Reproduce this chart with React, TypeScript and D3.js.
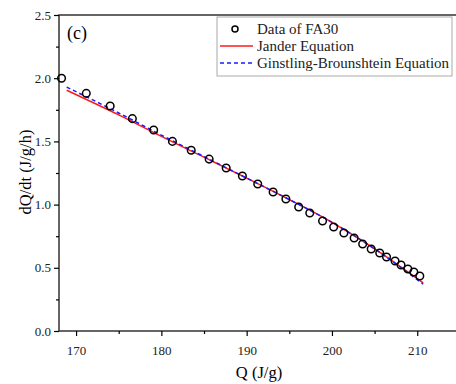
import React, { useEffect, useRef } from "react";
import * as d3 from "d3";

// measured data (Q in J/g, dQ/dt in J/g/h)
const dataQ = [168.3, 171.2, 174.0, 176.6, 179.1, 181.3, 183.5, 185.6, 187.6, 189.5, 191.3, 193.1, 194.6, 196.1, 197.4, 198.9, 200.2, 201.4, 202.6, 203.6, 204.6, 205.6, 206.4, 207.4, 208.1, 208.9, 209.6, 210.3];
const dataRate = [2.0, 1.88, 1.78, 1.68, 1.59, 1.5, 1.43, 1.36, 1.29, 1.226, 1.163, 1.1, 1.044, 0.981, 0.934, 0.87, 0.823, 0.775, 0.736, 0.688, 0.649, 0.617, 0.585, 0.554, 0.522, 0.491, 0.467, 0.435];

// fitted curves
const fitQ = [168.9, 175, 180, 185, 190, 195, 200, 205, 210.7];
const janderRate = [1.905, 1.71, 1.54, 1.375, 1.21, 1.04, 0.86, 0.65, 0.38];
const gbRate = [1.93, 1.725, 1.55, 1.38, 1.21, 1.04, 0.86, 0.65, 0.37];

const xTicks = [170, 180, 190, 200, 210];
const yTicks = [0.0, 0.5, 1.0, 1.5, 2.0, 2.5];

const legendLabels = ["Data of FA30", "Jander Equation", "Ginstling-Brounshtein Equation"];

const FONT = "'Liberation Serif', 'Times New Roman', serif";

const App: React.FC = () => {
  const svgRef = useRef<SVGSVGElement | null>(null);

  useEffect(() => {
    if (svgRef.current) drawChart(svgRef.current);
  }, []);

  const drawChart = (el: SVGSVGElement) => {
    const width = 456;
    const height = 384;
    const left = 59;
    const top = 15;
    const bottom = 331;

    d3.select(el).selectAll("*").remove();
    const svg = d3.select(el).attr("width", width).attr("height", height);

    const x = d3.scaleLinear().domain([168, 215]).range([left, 76.5 + 45 * 8.52]);
    const y = d3.scaleLinear().domain([0, 2.5]).range([bottom, top]);
    const right = x(215);

    // frame (right side runs off the image)
    svg
      .append("rect")
      .attr("x", left)
      .attr("y", top)
      .attr("width", right - left)
      .attr("height", bottom - top)
      .attr("fill", "none")
      .attr("stroke", "#333")
      .attr("stroke-width", 1.5);

    // x axis
    const xAxis = svg.append("g").attr("transform", `translate(0,${bottom})`);
    xAxis
      .call(d3.axisBottom(x).tickValues(xTicks).tickSize(5).tickFormat(d3.format("d")))
      .call((g) => g.select(".domain").remove());
    xAxis
      .append("g")
      .call(d3.axisBottom(x).tickValues([175, 185, 195, 205]).tickSize(3).tickFormat(() => ""))
      .call((g) => g.select(".domain").remove());

    // y axis
    const yAxis = svg.append("g").attr("transform", `translate(${left},0)`);
    yAxis
      .call(d3.axisLeft(y).tickValues(yTicks).tickSize(5).tickFormat(d3.format(".1f")))
      .call((g) => g.select(".domain").remove());
    yAxis
      .append("g")
      .call(d3.axisLeft(y).tickValues([0.25, 0.75, 1.25, 1.75, 2.25]).tickSize(3).tickFormat(() => ""))
      .call((g) => g.select(".domain").remove());

    svg.selectAll(".tick line").attr("stroke", "#000").attr("stroke-width", 1.2);
    svg
      .selectAll(".tick text")
      .attr("font-family", FONT)
      .attr("font-size", 13)
      .attr("fill", "#222");
    xAxis.selectAll(".tick text").attr("dy", "1.2em");

    // axis titles
    svg
      .append("text")
      .attr("x", 259)
      .attr("y", 378)
      .attr("text-anchor", "middle")
      .attr("font-family", FONT)
      .attr("font-size", 16.5)
      .text("Q (J/g)");

    svg
      .append("text")
      .attr("transform", `translate(31,172) rotate(-90)`)
      .attr("text-anchor", "middle")
      .attr("font-family", FONT)
      .attr("font-size", 16.5)
      .text("dQ/dt (J/g/h)");

    svg
      .append("text")
      .attr("x", 67)
      .attr("y", 39)
      .attr("font-family", FONT)
      .attr("font-size", 18)
      .text("(c)");

    const line = d3
      .line<number>()
      .x((d, i) => x(fitQ[i]))
      .y((d) => y(d))
      .curve(d3.curveMonotoneX);

    svg
      .append("path")
      .datum(janderRate)
      .attr("fill", "none")
      .attr("stroke", "#ff1a1a")
      .attr("stroke-width", 1.5)
      .attr("d", line);

    svg
      .append("path")
      .datum(gbRate)
      .attr("fill", "none")
      .attr("stroke", "#1a1aff")
      .attr("stroke-width", 1.5)
      .attr("stroke-dasharray", "4,3")
      .attr("d", line);

    svg
      .append("g")
      .selectAll("circle")
      .data(dataQ)
      .join("circle")
      .attr("cx", (d) => x(d))
      .attr("cy", (d, i) => y(dataRate[i]))
      .attr("r", 3.8)
      .attr("fill", "none")
      .attr("stroke", "#000")
      .attr("stroke-width", 1.5);

    // legend
    const lg = svg.append("g");
    lg.append("rect")
      .attr("x", 217)
      .attr("y", 17)
      .attr("width", 235)
      .attr("height", 59)
      .attr("fill", "#fff")
      .attr("stroke", "#aaa")
      .attr("stroke-width", 1);

    const rowY = [29, 46, 63];
    lg.append("circle")
      .attr("cx", 235)
      .attr("cy", rowY[0])
      .attr("r", 3)
      .attr("fill", "none")
      .attr("stroke", "#000")
      .attr("stroke-width", 1.5);
    lg.append("line")
      .attr("x1", 220)
      .attr("x2", 253)
      .attr("y1", rowY[1])
      .attr("y2", rowY[1])
      .attr("stroke", "#ff1a1a")
      .attr("stroke-width", 1.5);
    lg.append("line")
      .attr("x1", 220)
      .attr("x2", 253)
      .attr("y1", rowY[2])
      .attr("y2", rowY[2])
      .attr("stroke", "#1a1aff")
      .attr("stroke-width", 1.5)
      .attr("stroke-dasharray", "4,3");

    lg.selectAll("text")
      .data(legendLabels)
      .join("text")
      .attr("x", 257)
      .attr("y", (d, i) => rowY[i] + 5)
      .attr("font-family", FONT)
      .attr("font-size", 15)
      .attr("fill", "#222")
      .text((d) => d);
  };

  return (
    <div style={{ position: "absolute", left: 0, top: 0 }}>
      <svg ref={svgRef} style={{ display: "block" }}></svg>
    </div>
  );
};

export default App;
